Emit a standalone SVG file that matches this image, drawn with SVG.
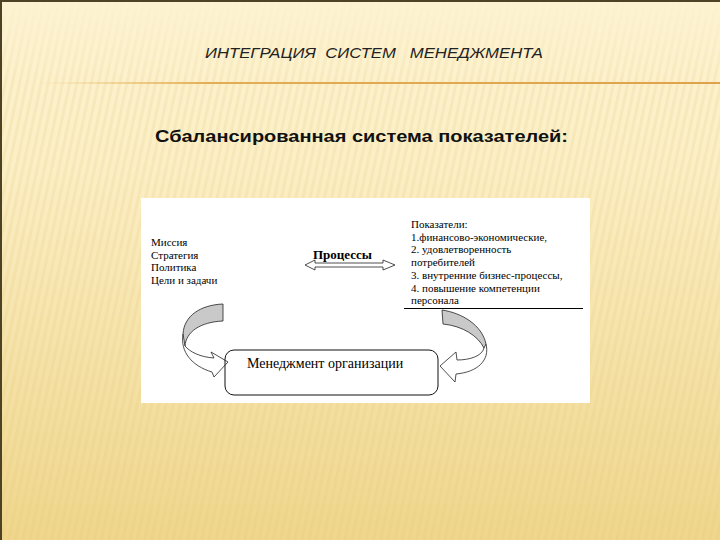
<svg xmlns="http://www.w3.org/2000/svg" width="720" height="540" viewBox="0 0 720 540">
<defs>
<linearGradient id="bg" x1="0" y1="0" x2="0" y2="1">
<stop offset="0" stop-color="#fdf3d2"/>
<stop offset="0.3" stop-color="#fcefc6"/>
<stop offset="1" stop-color="#efd68c"/>
</linearGradient>
<linearGradient id="fade" x1="0" y1="0" x2="0" y2="1">
<stop offset="0" stop-color="#fff" stop-opacity="0"/>
<stop offset="0.15" stop-color="#fff" stop-opacity="1"/>
<stop offset="1" stop-color="#fff" stop-opacity="1"/>
</linearGradient>
<mask id="m"><rect width="720" height="540" fill="url(#fade)"/></mask>
<linearGradient id="rule" x1="0" y1="0" x2="1" y2="0">
<stop offset="0" stop-color="#e8b860" stop-opacity="0"/>
<stop offset="0.25" stop-color="#e2ad55"/>
<stop offset="1" stop-color="#dea24a"/>
</linearGradient>
<pattern id="stripes" width="7" height="7" patternUnits="userSpaceOnUse" patternTransform="rotate(12)">
<rect width="3" height="7" fill="#e3c77a" opacity="0.18"/>
</pattern>
<style>
.serif{font-family:"Liberation Serif","Times New Roman",serif;fill:#000}
.ln{fill:none;stroke:#222;stroke-width:0.8}
</style>
</defs>
<rect width="720" height="540" fill="url(#bg)"/>
<rect width="720" height="540" fill="url(#stripes)" mask="url(#m)"/>
<path d="M1,540 V1 H720" fill="none" stroke="#4d4224" stroke-width="2"/>
<rect x="40" y="82" width="680" height="2" fill="url(#rule)"/>
<text x="205" y="58" textLength="338" lengthAdjust="spacingAndGlyphs" font-family="Liberation Sans, Arial, sans-serif" font-style="italic" font-size="15" fill="#222" xml:space="preserve">ИНТЕГРАЦИЯ  СИСТЕМ   МЕНЕДЖМЕНТА</text>
<text x="155" y="142" textLength="413" lengthAdjust="spacingAndGlyphs" font-family="Liberation Sans, Arial, sans-serif" font-weight="bold" font-size="17" fill="#111">Сбалансированная система показателей:</text>
<rect x="141" y="198" width="449" height="205" fill="#fff"/>
<g id="goals">
<text class="serif" font-size="11" x="151" y="246">Миссия</text>
<text class="serif" font-size="11" x="151" y="259">Стратегия</text>
<text class="serif" font-size="11" x="151" y="271">Политика</text>
<text class="serif" font-size="11" x="151" y="284">Цели и задачи</text>
</g>
<g id="processes">
<text class="serif" font-size="13" font-weight="bold" x="313" y="259">Процессы</text>
</g>
<g id="indicators">
<text class="serif" font-size="11" x="411" y="228">Показатели:</text>
<text class="serif" font-size="11" x="411" y="241">1.финансово-экономические,</text>
<text class="serif" font-size="11" x="411" y="253">2. удовлетворенность</text>
<text class="serif" font-size="11" x="411" y="266">потребителей</text>
<text class="serif" font-size="11" x="411" y="279">3. внутренние бизнес-процессы,</text>
<text class="serif" font-size="11" x="411" y="292">4. повышение компетенции</text>
<text class="serif" font-size="11" x="411" y="304">персонала</text>
<line x1="404" y1="308.5" x2="583" y2="308.5" stroke="#000" stroke-width="1"/>
</g>
<g id="management">
<rect x="225" y="350" width="213" height="45" rx="9" fill="#fff" stroke="#111" stroke-width="1"/>
<text class="serif" font-size="14" x="247" y="368">Менеджмент организации</text>
</g>
<g id="connectors">
<path class="ln" d="M305,265 L315,260 L315,263 L383,263 L383,260 L395,265 L383,270 L383,267 L315,267 L315,270 Z" fill="#fff"/>
<path d="M223,304 C200,305 184,316 183,334 L185,346 C186,332 200,322 223,321 Z" fill="#c9c9c9" stroke="#222" stroke-width="0.8"/>
<path class="ln" d="M183,334 C180,352 192,366 212,372 M185,346 C190,352 200,357 214,358 M214,358 L211,352 L228,362 L214,377 L212,372"/>
<path d="M442,310 C462,313 482,325 486,344 L484,348 C478,336 463,326 443,324 Z" fill="#c9c9c9" stroke="#222" stroke-width="0.8"/>
<path class="ln" d="M486,344 C490,360 478,372 456,374 M484,348 C482,356 470,360 457,360 M457,360 L456,352 L440,366 L455,382 L456,374"/>
</g>
</svg>
